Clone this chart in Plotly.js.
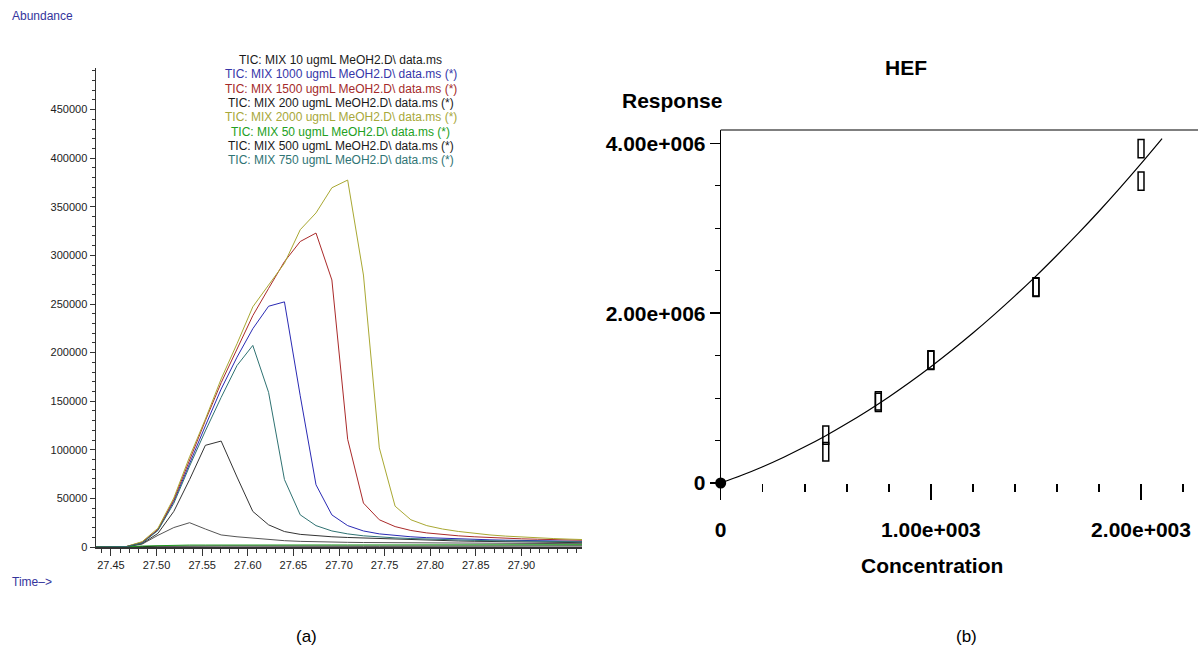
<!DOCTYPE html>
<html>
<head>
<meta charset="utf-8">
<script src="https://cdn.plot.ly/plotly-3.0.1.min.js"></script>
<style>
  html, body { margin: 0; padding: 0; background: #fff; }
  #chart { width: 1198px; height: 654px; }
</style>
</head>
<body>
<div id="chart"></div>
<script>
// ---------------- (a) chromatogram data ----------------
const retentionTime = [27.4322, 27.4495, 27.4669, 27.4842, 27.5015, 27.5189, 27.5362, 27.5535,
  27.5708, 27.5882, 27.6055, 27.6228, 27.6402, 27.6575, 27.6748, 27.6922, 27.7095, 27.7268,
  27.7442, 27.7615, 27.7788, 27.7962, 27.8135, 27.8308, 27.8482, 27.8655, 27.8828, 27.9002,
  27.9175, 27.9348, 27.9522, 27.9695];
const timeTicks = [27.45, 27.50, 27.55, 27.60, 27.65, 27.70, 27.75, 27.80, 27.85, 27.90];

const tic10 = [0, 0, 100, 400, 800, 1000, 1100, 1100, 1000, 1000, 900, 900, 900, 900, 900, 900,
  900, 900, 900, 900, 900, 900, 900, 900, 1000, 1000, 1000, 1000, 1100, 1100, 1100, 1100];
const tic1000 = [0, 0, 400, 4500, 17600, 47000, 86600, 124600, 162500, 195300, 224600, 247700,
  252200, 155600, 64000, 33000, 22000, 16500, 13500, 11800, 10500, 9600, 8900, 8300, 7800, 7400,
  7000, 6700, 6400, 6200, 6000, 5800];
const tic1500 = [0, 0, 500, 5000, 18000, 48700, 90000, 130000, 169000, 204000, 238000, 266000,
  293600, 314300, 323000, 274700, 110800, 45200, 28000, 21000, 17000, 14500, 12800, 11500, 10500,
  9600, 9000, 8400, 8000, 7600, 7200, 6900];
const tic200 = [0, 0, 200, 3000, 12000, 20000, 25000, 18500, 12400, 10500, 9000, 7500, 6500, 5800,
  5300, 5000, 4800, 4600, 4500, 4400, 4300, 4200, 4100, 4000, 3900, 3800, 3700, 3600, 3600, 3500,
  3500, 3400];
const tic2000 = [0, 0, 500, 5500, 19300, 50400, 92800, 131500, 172900, 209100, 247100, 269500,
  291900, 326400, 343700, 369600, 377500, 279800, 102000, 42000, 28000, 22000, 18500, 16000, 14000,
  12400, 11200, 10200, 9400, 8700, 8100, 7600];
const tic50 = [0, 0, 200, 1000, 1500, 1800, 2000, 2000, 2100, 2100, 2100, 2100, 2100, 2100, 2100,
  2100, 2100, 2100, 2100, 2100, 2100, 2100, 2100, 2100, 2200, 2200, 2200, 2300, 2300, 2300, 2400, 2400];
const tic500 = [0, 0, 300, 3500, 14000, 36600, 69400, 104600, 109000, 72000, 36600, 22800, 15900,
  13000, 11500, 10500, 9800, 9200, 8600, 8000, 7500, 7000, 6600, 6200, 5900, 5600, 5300, 5000,
  4800, 4600, 4500, 4400];
const tic750 = [0, 0, 400, 4000, 17000, 45000, 83200, 119400, 153900, 186700, 207400, 159100,
  69400, 33100, 22000, 16500, 13500, 11500, 10300, 9400, 8700, 8100, 7600, 7200, 6800, 6500, 6200,
  6000, 5800, 5600, 5400, 5300];

const seriesNames = [
  'TIC: MIX 10 ugmL MeOH2.D\\ data.ms',
  'TIC: MIX 1000 ugmL MeOH2.D\\ data.ms (*)',
  'TIC: MIX 1500 ugmL MeOH2.D\\ data.ms (*)',
  'TIC: MIX 200 ugmL MeOH2.D\\ data.ms (*)',
  'TIC: MIX 2000 ugmL MeOH2.D\\ data.ms (*)',
  'TIC: MIX 50 ugmL MeOH2.D\\ data.ms (*)',
  'TIC: MIX 500 ugmL MeOH2.D\\ data.ms (*)',
  'TIC: MIX 750 ugmL MeOH2.D\\ data.ms (*)'
];
const seriesValues = [tic10, tic1000, tic1500, tic200, tic2000, tic50, tic500, tic750];

// ---------------- (b) calibration data ----------------
const calConc = [500, 500, 750, 750, 1000, 1000, 1500, 1500, 2000, 2000];
const calResp = [565000, 368000, 950000, 968000, 1445000, 1450000, 2305000, 2310000, 3938000, 3555000];
const originConc = [0];
const originResp = [0];
const fitConc = [0, 100, 200, 300, 400, 500, 600, 700, 800, 900, 1000, 1100, 1200, 1300, 1400,
  1500, 1600, 1700, 1800, 1900, 2000, 2100];
const fitResp = [0, 91000, 192000, 304000, 426000, 557000, 700000, 852000, 1014000, 1187000,
  1370000, 1563000, 1766000, 1980000, 2204000, 2437000, 2682000, 2936000, 3200000, 3475000,
  3760000, 4055000];
const xTickVals = [0, 1000, 2000];
const xTickText = ['0', '1.00e+003', '2.00e+003'];
const yTickVals = [0, 2000000, 4000000];
const yTickText = ['0', '2.00e+006', '4.00e+006'];

// ---------------- styles ----------------
const lineColors = ['#111111', '#2a2ab4', '#aa2a2a', '#555555', '#a9a832', '#1f9a1f', '#333333', '#2f7272'];
const textColors = ['#1a1a1a', '#3636a8', '#a42a2a', '#1a1a1a', '#a8a83a', '#22a022', '#1a1a1a', '#2f7474'];
const W = 1198, H = 654;
const px = v => v / W;
const py = v => 1 - v / H;
const BOX_W = 28, BOX_H = 215000;

const traces = [];
seriesValues.forEach((vals, i) => {
  traces.push({
    type: 'scatter', mode: 'lines', x: retentionTime, y: vals,
    xaxis: 'x', yaxis: 'y', name: seriesNames[i],
    line: { color: lineColors[i], width: 1 }, showlegend: false, hoverinfo: 'skip'
  });
});

traces.push({
  type: 'scatter', mode: 'lines', x: fitConc, y: fitResp, xaxis: 'x2', yaxis: 'y2',
  line: { color: '#000', width: 1.2, shape: 'spline' }, showlegend: false, hoverinfo: 'skip'
});
traces.push({
  type: 'bar', x: calConc, y: calConc.map(() => BOX_H), base: calResp.map(r => r - BOX_H / 2),
  width: BOX_W, xaxis: 'x2', yaxis: 'y2',
  marker: { color: 'rgba(0,0,0,0)', line: { color: '#000', width: 1.5 } },
  showlegend: false, hoverinfo: 'skip'
});
traces.push({
  type: 'scatter', mode: 'markers', x: originConc, y: originResp, xaxis: 'x2', yaxis: 'y2',
  marker: { color: '#000', size: 11, symbol: 'circle' }, cliponaxis: false, showlegend: false, hoverinfo: 'skip'
});

const legendAnn = seriesNames.map((n, i) => ({
  text: n, xref: 'paper', yref: 'paper', x: px(341), y: py(60 + 14.3 * i),
  xanchor: 'center', yanchor: 'middle', showarrow: false,
  font: { family: 'Liberation Sans, Arial, sans-serif', size: 12, color: textColors[i] }
}));

const boldFont = (s) => ({ family: 'Liberation Sans, Arial, sans-serif', size: s, color: '#000', weight: 700 });

const annotations = legendAnn.concat([
  { text: 'Abundance', xref: 'paper', yref: 'paper', x: px(10), y: py(16), xanchor: 'left', yanchor: 'middle',
    showarrow: false, font: { family: 'Liberation Sans, Arial, sans-serif', size: 12, color: '#34349c' } },
  { text: 'Time–>', xref: 'paper', yref: 'paper', x: px(10), y: py(582), xanchor: 'left', yanchor: 'middle',
    showarrow: false, font: { family: 'Liberation Sans, Arial, sans-serif', size: 12, color: '#34349c' } },
  { text: 'Response', xref: 'paper', yref: 'paper', x: px(672), y: py(100), xanchor: 'center', yanchor: 'middle',
    showarrow: false, font: boldFont(21) },
  { text: 'Concentration', xref: 'paper', yref: 'paper', x: px(932), y: py(565), xanchor: 'center', yanchor: 'middle',
    showarrow: false, font: boldFont(21) },
  { text: '(a)', xref: 'paper', yref: 'paper', x: px(306), y: py(636), xanchor: 'center', yanchor: 'middle',
    showarrow: false, font: { family: 'Liberation Sans Narrow, Liberation Sans, Arial, sans-serif', size: 17, color: '#000' } },
  { text: '(b)', xref: 'paper', yref: 'paper', x: px(966), y: py(636), xanchor: 'center', yanchor: 'middle',
    showarrow: false, font: { family: 'Liberation Sans Narrow, Liberation Sans, Arial, sans-serif', size: 17, color: '#000' } }
]);

const tickFontL = { family: 'Liberation Sans, Arial, sans-serif', size: 11, color: '#222' };

const layout = {
  width: W, height: H, autosize: false,
  margin: { l: 0, r: 0, t: 0, b: 0, pad: 0 },
  paper_bgcolor: '#fff', plot_bgcolor: 'rgba(0,0,0,0)',
  showlegend: false, barmode: 'overlay',
  title: { text: 'HEF', x: px(906), y: py(68), xref: 'paper', yref: 'paper', xanchor: 'center', yanchor: 'middle',
    font: boldFont(21) },
  xaxis: {
    domain: [px(96), px(582)], range: [27.4336, 27.9664], anchor: 'y',
    showgrid: false, zeroline: false, showline: true, linecolor: '#333', linewidth: 1.5,
    ticks: 'outside', tickvals: timeTicks, ticklen: 7, tickcolor: '#333', tickwidth: 1,
    tickformat: '.2f', tickfont: tickFontL,
    minor: { dtick: 0.01, tick0: 27.45, ticks: 'outside', ticklen: 4, tickcolor: '#333', showgrid: false }
  },
  yaxis: {
    domain: [1 - 547 / H, 1 - 68 / H], range: [0, 492800], anchor: 'x',
    showgrid: false, zeroline: false, showline: true, linecolor: '#333', linewidth: 1.5,
    ticks: 'outside', tick0: 0, dtick: 50000, ticklen: 5, tickcolor: '#333', tickwidth: 1,
    tickformat: 'd', tickfont: tickFontL,
    minor: { dtick: 10000, tick0: 0, ticks: 'outside', ticklen: 3, tickcolor: '#333', showgrid: false }
  },
  xaxis2: {
    domain: [px(720.7), 1], range: [0, 2271], anchor: 'y2',
    showgrid: false, zeroline: false, showline: false,
    ticks: 'outside', tickvals: xTickVals, ticktext: xTickText, ticklen: 16, tickwidth: 1.5, tickcolor: '#000',
    ticklabelstandoff: 12, tickfont: boldFont(21),
    minor: { dtick: 200, tick0: 0, ticks: 'outside', ticklen: 8, tickwidth: 1.5, tickcolor: '#000', showgrid: false }
  },
  yaxis2: {
    domain: [1 - 483 / H, 1 - 130 / H], range: [0, 4157000], anchor: 'x2',
    showgrid: false, zeroline: false, showline: true, linecolor: '#000', linewidth: 1,
    ticks: 'outside', tickvals: yTickVals, ticktext: yTickText, ticklen: 10, tickwidth: 1.5, tickcolor: '#000',
    tickfont: boldFont(21),
    minor: { dtick: 500000, tick0: 0, ticks: 'outside', ticklen: 5, tickwidth: 1, tickcolor: '#000', showgrid: false }
  },
  shapes: [
    { type: 'line', xref: 'x2 domain', yref: 'y2 domain', x0: 0, x1: 1, y0: 1, y1: 1,
      line: { color: '#555', width: 1.5 } }
  ],
  annotations: annotations
};

Plotly.newPlot('chart', traces, layout, { staticPlot: true, displayModeBar: false });
</script>
</body>
</html>
